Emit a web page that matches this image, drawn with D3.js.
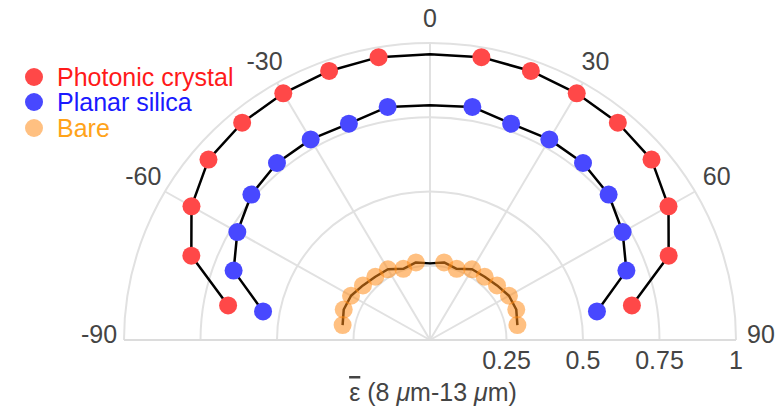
<!DOCTYPE html>
<html>
<head>
<meta charset="utf-8">
<script src="https://cdn.jsdelivr.net/npm/d3@7/dist/d3.min.js"></script>
<style>
  html, body { margin: 0; padding: 0; background: #fff; }
  svg { display: block; font-family: "Liberation Sans", Arial, Helvetica, sans-serif; }
</style>
</head>
<body>
<svg id="chart" width="783" height="410"></svg>
<script>
// ---- data ----
const angles = [-80, -70, -60, -50, -40, -30, -20, -10, 0, 10, 20, 30, 40, 50, 60, 70, 80];
const crystal = [0.67, 0.83, 0.90, 0.945, 0.955, 0.959, 0.964, 0.967, 0.962, 0.967, 0.964, 0.959, 0.955, 0.945, 0.90, 0.83, 0.67];
const silica  = [0.554, 0.683, 0.727, 0.762, 0.778, 0.78, 0.775, 0.797, 0.79, 0.797, 0.775, 0.78, 0.778, 0.762, 0.727, 0.683, 0.554];
const bare    = [0.29, 0.30, 0.298, 0.286, 0.278, 0.275, 0.255, 0.265, 0.258, 0.265, 0.255, 0.275, 0.278, 0.286, 0.298, 0.30, 0.29];
const seriesNames = ["Photonic crystal", "Planar silica", "Bare"];
const angularTicks = [-90, -60, -30, 0, 30, 60, 90];
const radialTicks = [0.25, 0.5, 0.75, 1];
const radialTickLabels = ["0.25", "0.5", "0.75", "1"];

// ---- layout ----
const svg = d3.select("#chart");
const cx = 430, cy = 340;
const rx = d3.scaleLinear().domain([0, 1]).range([0, 306]);
const ry = d3.scaleLinear().domain([0, 1]).range([0, 297]);
const rad = d => d * Math.PI / 180;
const px = (a, r) => cx + rx(r) * Math.sin(rad(a));
const py = (a, r) => cy - ry(r) * Math.cos(rad(a));

const gridColor = "#e1e1e1";
const textColor = "#444";

// grid circles (half ellipses)
const grid = svg.append("g");
grid.selectAll("path.circ").data(radialTicks).join("path")
  .attr("class", "circ")
  .attr("d", r => `M${cx - rx(r)},${cy} A${rx(r)},${ry(r)} 0 0 1 ${cx + rx(r)},${cy}`)
  .attr("fill", "none").attr("stroke", gridColor).attr("stroke-width", 2);
// spokes
grid.selectAll("line.spoke").data(angularTicks.filter(a => Math.abs(a) < 90)).join("line")
  .attr("class", "spoke")
  .attr("x1", cx).attr("y1", cy)
  .attr("x2", a => px(a, 1)).attr("y2", a => py(a, 1))
  .attr("stroke", gridColor).attr("stroke-width", 2);
// base line
grid.append("line")
  .attr("x1", px(-90, 1)).attr("x2", px(90, 1)).attr("y1", cy).attr("y2", cy)
  .attr("stroke", "#dcdcdc").attr("stroke-width", 2);

// angular tick labels
svg.append("g").selectAll("text").data(angularTicks).join("text")
  .attr("x", a => px(a, 1) + 25 * Math.sin(rad(a)))
  .attr("y", a => py(a, 1) - 25 * Math.cos(rad(a)) - 6 * Math.pow(Math.abs(Math.sin(rad(a))), 6))
  .attr("text-anchor", "middle").attr("dominant-baseline", "central")
  .attr("font-size", 25).attr("fill", textColor)
  .text(a => a);

// radial tick labels
svg.append("g").selectAll("text").data(radialTicks).join("text")
  .attr("x", (r, i) => cx + rx(r))
  .attr("y", cy + 29)
  .attr("text-anchor", "middle")
  .attr("font-size", 25).attr("fill", textColor)
  .text((r, i) => radialTickLabels[i]);

// axis title
const title = svg.append("text")
  .attr("x", 433).attr("y", 401)
  .attr("text-anchor", "middle").attr("font-size", 25).attr("fill", textColor);
title.append("tspan").style("text-decoration", "overline").text("\u03B5");
title.append("tspan").text(" (8 ");
title.append("tspan").attr("font-style", "italic").text("\u03BC");
title.append("tspan").text("m-13 ");
title.append("tspan").attr("font-style", "italic").text("\u03BC");
title.append("tspan").text("m)");

// series
const series = [
  { name: seriesNames[0], values: crystal, fill: "#ff4848", opacity: 1, text: "#ff1a1a" },
  { name: seriesNames[1], values: silica, fill: "#4848ff", opacity: 1, text: "#1a1aff" },
  { name: seriesNames[2], values: bare, fill: "#ff8c1a", opacity: 0.55, text: "#ffa31a" }
];

const line = d3.line().x(d => px(d.a, d.r)).y(d => py(d.a, d.r));

series.forEach(s => {
  const pts = angles.map((a, i) => ({ a, r: s.values[i] }));
  const g = svg.append("g");
  g.append("path").datum(pts).attr("d", line)
    .attr("fill", "none").attr("stroke", "#000").attr("stroke-width", 2.5)
    .attr("stroke-linejoin", "round");
  g.selectAll("circle").data(pts.filter(d => d.a !== 0)).join("circle")
    .attr("cx", d => px(d.a, d.r)).attr("cy", d => py(d.a, d.r))
    .attr("r", 9).attr("fill", s.fill).attr("fill-opacity", s.opacity);
});

// legend
const legend = svg.append("g");
const legY = [77, 102, 128];
series.forEach((s, i) => {
  legend.append("circle").attr("cx", 34).attr("cy", legY[i]).attr("r", 9)
    .attr("fill", s.fill).attr("fill-opacity", s.opacity);
  legend.append("text").attr("x", 57).attr("y", legY[i] + 9)
    .attr("font-size", 25).attr("fill", s.text).text(s.name);
});
</script>
</body>
</html>
